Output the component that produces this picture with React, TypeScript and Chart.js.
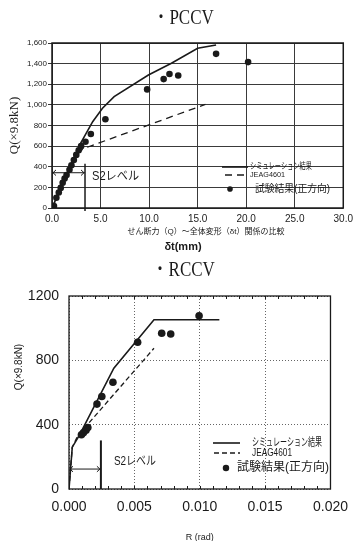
import React, { useEffect, useRef } from 'react';
import { Chart, registerables } from 'chart.js';

Chart.register(...registerables);

// ---------------- PCCV data ----------------
const pccvSimX = [0, 2.84, 4.19, 5.2, 6.4, 9.93, 12.3, 15.0, 16.9];
const pccvSimY = [0, 611, 837, 967, 1080, 1290, 1403, 1549, 1581];
const pccvJeagX = [0, 2.6, 3.3, 15.8];
const pccvJeagY = [0, 530, 578, 1005];
const pccvTestX = [0.2, 0.45, 0.7, 0.9, 1.1, 1.3, 1.5, 1.8, 2.0, 2.25, 2.5, 2.75, 3.0, 3.45, 4.0, 5.5, 9.8, 11.5, 12.1, 13.0, 16.9, 20.2];
const pccvTestY = [20, 100, 150, 195, 245, 285, 320, 370, 415, 465, 515, 560, 600, 643, 718, 860, 1150, 1250, 1300, 1285, 1495, 1415];
const pccvXTicks = [0, 5, 10, 15, 20, 25, 30];
const pccvYTicks = [0, 200, 400, 600, 800, 1000, 1200, 1400, 1600];
const pccvS2X = 3.4;
const pccvS2Top = 430;
const pccvS2Bottom = -30;
const pccvS2ArrowY = 342;
const pccvS2LabelY = 300;

// ---------------- RCCV data ----------------
const rccvSimX = [0, 0.00025, 0.0008, 0.00343, 0.0065, 0.0115];
const rccvSimY = [0, 260, 335, 751, 1052, 1052];
const rccvJeagX = [0, 0.00025, 0.00066, 0.0065];
const rccvJeagY = [0, 260, 330, 875];
const rccvTestX = [0.00095, 0.0011, 0.0013, 0.00144, 0.00214, 0.00251, 0.00336, 0.00525, 0.00709, 0.00778, 0.00995];
const rccvTestY = [337, 350, 365, 382, 528, 575, 664, 912, 968, 964, 1077];
const rccvXTicks = [0, 0.005, 0.01, 0.015, 0.02];
const rccvYTicks = [0, 400, 800, 1200];
const rccvS2X = 0.00244;
const rccvS2Top = 302;
const rccvS2Bottom = 0;
const rccvS2ArrowY = 124;
const rccvS2LabelY = 170;

const seriesLabels = ['シミュレーション結果', 'JEAG4601', '試験結果(正方向)'];

const SANS = "'Liberation Sans', Arial, 'Noto Sans CJK JP', sans-serif";
const JP = "'Liberation Sans', 'Noto Sans CJK JP', sans-serif";
const SERIF = "'Liberation Serif', 'Noto Serif CJK JP', 'Noto Sans CJK JP', serif";
const INK = '#1a1a1a';

const zip = (xs: number[], ys: number[]) => xs.map((x, i) => ({ x, y: ys[i] }));

const decorPlugin = {
  id: 'decor',
  afterDatasetsDraw(chart: any, _args: any, opts: any) {
    const { ctx, chartArea: a, scales } = chart;
    const xs = scales.x;
    const ys = scales.y;
    ctx.save();
    ctx.strokeStyle = INK;
    ctx.fillStyle = INK;
    ctx.setLineDash([]);
    // frame
    ctx.lineWidth = opts.frameWidth;
    ctx.strokeRect(a.left, a.top, a.right - a.left, a.bottom - a.top);
    // minor ticks on top and bottom edges
    if (opts.minorStep) {
      ctx.lineWidth = 1;
      const n = Math.round((xs.max - xs.min) / opts.minorStep);
      ctx.beginPath();
      for (let i = 1; i < n; i++) {
        const px = Math.round(xs.getPixelForValue(xs.min + i * opts.minorStep)) + 0.5;
        ctx.moveTo(px, a.top);
        ctx.lineTo(px, a.top + opts.minorLen);
        ctx.moveTo(px, a.bottom);
        ctx.lineTo(px, a.bottom - opts.minorLen);
      }
      ctx.stroke();
    }
    // S2 level marker
    const s = opts.s2;
    const sx = xs.getPixelForValue(s.x);
    ctx.lineWidth = s.lineWidth;
    ctx.beginPath();
    ctx.moveTo(sx, ys.getPixelForValue(s.top));
    ctx.lineTo(sx, ys.getPixelForValue(s.bottom));
    ctx.stroke();
    const ay = ys.getPixelForValue(s.arrowY);
    const ax0 = xs.getPixelForValue(xs.min);
    const h = s.head;
    ctx.lineWidth = 1;
    ctx.beginPath();
    ctx.moveTo(ax0, ay);
    ctx.lineTo(sx, ay);
    ctx.moveTo(ax0 + h, ay - h * 0.7);
    ctx.lineTo(ax0 + 1, ay);
    ctx.lineTo(ax0 + h, ay + h * 0.7);
    ctx.moveTo(sx - h, ay - h * 0.7);
    ctx.lineTo(sx - 1, ay);
    ctx.lineTo(sx - h, ay + h * 0.7);
    ctx.stroke();
    ctx.font = s.font;
    ctx.textBaseline = 'middle';
    ctx.textAlign = 'left';
    ctx.fillText(s.label, sx + s.labelDx, ys.getPixelForValue(s.labelY), s.labelMaxW);
    // legend
    for (const it of opts.legend) {
      const ds = chart.data.datasets[it.ds];
      if (it.kind === 'line') {
        ctx.save();
        ctx.strokeStyle = ds.borderColor;
        ctx.lineWidth = ds.borderWidth;
        ctx.setLineDash(ds.borderDash || []);
        ctx.beginPath();
        ctx.moveTo(it.x1, it.y);
        ctx.lineTo(it.x2, it.y);
        ctx.stroke();
        ctx.restore();
      } else {
        ctx.beginPath();
        ctx.arc(it.px, it.y, ds.pointRadius * 0.85, 0, Math.PI * 2);
        ctx.fillStyle = ds.pointBackgroundColor;
        ctx.fill();
      }
      ctx.fillStyle = INK;
      ctx.font = it.font;
      ctx.textAlign = 'left';
      ctx.textBaseline = 'middle';
      ctx.fillText(ds.label, it.tx, it.y, it.maxW);
    }
    // free texts
    for (const t of opts.texts || []) {
      ctx.save();
      ctx.translate(t.x, t.y);
      ctx.rotate(t.rot || 0);
      ctx.font = t.font;
      ctx.fillStyle = INK;
      ctx.textAlign = 'center';
      ctx.textBaseline = 'middle';
      ctx.fillText(t.text, 0, 0);
      ctx.restore();
    }
    ctx.restore();
  },
};

function makeDatasets(simX: number[], simY: number[], jX: number[], jY: number[], tX: number[], tY: number[], dash: number[], r: number) {
  return [
    {
      label: seriesLabels[0], type: 'line', data: zip(simX, simY), borderColor: INK, borderWidth: 1.6,
      pointRadius: 0, fill: false, tension: 0, showLine: true, order: 2,
    },
    {
      label: seriesLabels[1], type: 'line', data: zip(jX, jY), borderColor: INK, borderWidth: 1.3,
      borderDash: dash, pointRadius: 0, fill: false, tension: 0, showLine: true, order: 3,
    },
    {
      label: seriesLabels[2], type: 'scatter', data: zip(tX, tY), pointRadius: r, pointBackgroundColor: INK,
      pointBorderColor: INK, pointBorderWidth: 0, showLine: false, order: 1,
    },
  ];
}

const pccvConfig: any = {
  type: 'scatter',
  data: { datasets: makeDatasets(pccvSimX, pccvSimY, pccvJeagX, pccvJeagY, pccvTestX, pccvTestY, [7, 5], 3.3) },
  options: {
    responsive: false,
    animation: false,
    events: [],
    layout: { padding: { top: 43, right: 10, left: 0, bottom: 0 } },
    plugins: {
      legend: { display: false },
      tooltip: { enabled: false },
      decor: {
        frameWidth: 1.5,
        s2: { x: pccvS2X, top: pccvS2Top, bottom: pccvS2Bottom, arrowY: pccvS2ArrowY, head: 4, lineWidth: 1.5,
          label: 'S2レベル', labelDx: 7, labelY: pccvS2LabelY, labelMaxW: 47, font: `12px ${JP}` },
        legend: [
          { ds: 0, kind: 'line', x1: 222, x2: 248, y: 167, tx: 250, maxW: 62, font: `9px ${JP}` },
          { ds: 1, kind: 'line', x1: 225, x2: 248, y: 175, tx: 250, maxW: 35, font: `8px ${SANS}` },
          { ds: 2, kind: 'dot', px: 230, y: 189, tx: 255, maxW: 75, font: `10px ${JP}` },
        ],
      },
    },
    scales: {
      x: {
        type: 'linear', min: 0, max: 30,
        afterBuildTicks: (s: any) => { s.ticks = pccvXTicks.map((v) => ({ value: v })); },
        afterFit: (s: any) => { s.height = 47; },
        ticks: { callback: (v: any) => Number(v).toFixed(1), font: { size: 10, family: SANS }, color: '#222', padding: 5, maxRotation: 0, autoSkip: false },
        grid: { color: '#3a3a3a', lineWidth: 1, drawTicks: false },
        border: { display: false },
      },
      y: {
        type: 'linear', min: 0, max: 1600,
        afterBuildTicks: (s: any) => { s.ticks = pccvYTicks.map((v) => ({ value: v })); },
        afterFit: (s: any) => { s.width = 52; },
        ticks: { callback: (v: any) => Number(v).toLocaleString('en-US'), font: { size: 8, family: SANS }, color: '#222', padding: 1, autoSkip: false },
        grid: { color: '#3a3a3a', lineWidth: 1, drawTicks: true, tickLength: 4, tickColor: '#333' },
        border: { display: false },
        title: { display: true, text: 'Q(×9.8kN)', font: { size: 13, family: SERIF }, color: '#222', padding: { top: 7, bottom: 0 } },
      },
    },
  },
  plugins: [decorPlugin],
};

const rccvConfig: any = {
  type: 'scatter',
  data: { datasets: makeDatasets(rccvSimX, rccvSimY, rccvJeagX, rccvJeagY, rccvTestX, rccvTestY, [5, 3], 3.8) },
  options: {
    responsive: false,
    animation: false,
    events: [],
    layout: { padding: { top: 41, right: 21, left: 0, bottom: 0 } },
    plugins: {
      legend: { display: false },
      tooltip: { enabled: false },
      decor: {
        frameWidth: 1.3,
        minorStep: 0.001,
        minorLen: 3,
        s2: { x: rccvS2X, top: rccvS2Top, bottom: rccvS2Bottom, arrowY: rccvS2ArrowY, head: 4, lineWidth: 2,
          label: 'S2レベル', labelDx: 13, labelY: rccvS2LabelY, labelMaxW: 42, font: `12px ${JP}` },
        legend: [
          { ds: 0, kind: 'line', x1: 213, x2: 240, y: 188, tx: 252, maxW: 70, font: `11px ${JP}` },
          { ds: 1, kind: 'line', x1: 214, x2: 240, y: 198, tx: 252, maxW: 40, font: `10px ${SANS}` },
          { ds: 2, kind: 'dot', px: 226, y: 213, tx: 237, maxW: 93, font: `12px ${JP}` },
        ],
        texts: [
          { text: 'Q(×9.8kN)', x: 19, y: 112, rot: -Math.PI / 2, font: `10px ${SANS}` },
        ],
      },
    },
    scales: {
      x: {
        type: 'linear', min: 0, max: 0.02,
        afterBuildTicks: (s: any) => { s.ticks = rccvXTicks.map((v) => ({ value: v })); },
        afterFit: (s: any) => { s.height = 56; },
        ticks: { callback: (v: any) => Number(v).toFixed(3), font: { size: 14, family: SANS }, color: '#1a1a1a', padding: 10, maxRotation: 0, autoSkip: false },
        grid: { color: '#666', lineWidth: 1, drawTicks: false },
        border: { display: false, dash: [1, 2] },
        title: { display: true, text: 'R (rad)', font: { size: 9, family: SANS }, color: '#222', padding: { top: 0, bottom: 2 } },
      },
      y: {
        type: 'linear', min: 0, max: 1200,
        afterBuildTicks: (s: any) => { s.ticks = rccvYTicks.map((v) => ({ value: v })); },
        afterFit: (s: any) => { s.width = 69; },
        ticks: { callback: (v: any) => String(v), font: { size: 14, family: SANS }, color: '#1a1a1a', padding: 10, autoSkip: false },
        grid: { color: '#666', lineWidth: 1, drawTicks: false },
        border: { display: false, dash: [1, 2] },
      },
    },
  },
  plugins: [decorPlugin],
};

function ChartCanvas({ config, top, height }: { config: any; top: number; height: number }) {
  const ref = useRef<HTMLCanvasElement>(null);
  useEffect(() => {
    const c = new Chart(ref.current as HTMLCanvasElement, config);
    return () => c.destroy();
  }, [config]);
  return (
    <canvas ref={ref} width={358} height={height}
      style={{ position: 'absolute', left: 0, top, width: 358, height }} />
  );
}

const abs = (left: number, top: number, width: number, extra: any) => ({
  position: 'absolute' as const, left, top, width, textAlign: 'center' as const, whiteSpace: 'nowrap' as const, color: '#1a1a1a', ...extra,
});

export default function App() {
  return (
    <div style={{ position: 'absolute', left: 0, top: 0, width: 358, height: 541, overflow: 'hidden', background: '#fff' }}>
      <ChartCanvas config={pccvConfig} top={0} height={255} />
      <ChartCanvas config={rccvConfig} top={255} height={290} />
      <div style={abs(83, 4, 200, { fontFamily: SERIF, fontSize: 20, lineHeight: '26px' })}>
        <span style={{ display: 'inline-block', transform: 'scaleX(0.85)' }}>・PCCV</span>
      </div>
      <div style={abs(106, 226, 200, { fontFamily: JP, fontSize: 8, lineHeight: '12px' })}>
        せん断力（Q）～全体変形（δt）関係の比較
      </div>
      <div style={abs(133, 239, 100, { fontFamily: SANS, fontSize: 11, lineHeight: '14px', fontWeight: 'bold' })}>
        δt(mm)
      </div>
      <div style={abs(83, 256, 200, { fontFamily: SERIF, fontSize: 20, lineHeight: '26px' })}>
        <span style={{ display: 'inline-block', transform: 'scaleX(0.85)' }}>・RCCV</span>
      </div>
    </div>
  );
}
